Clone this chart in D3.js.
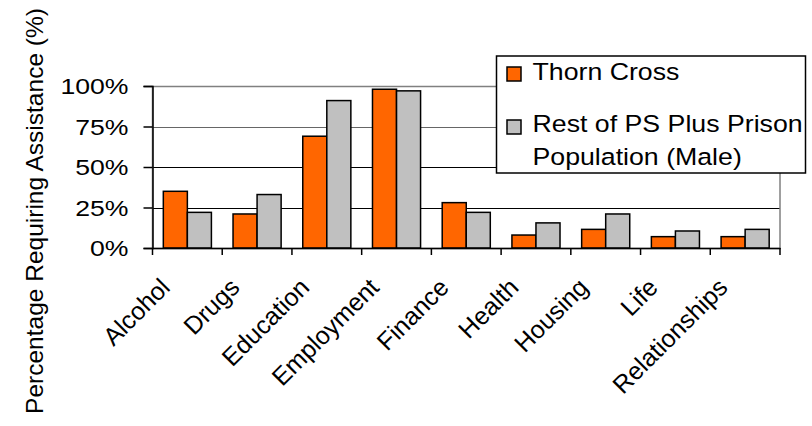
<!DOCTYPE html>
<html><head><meta charset="utf-8">
<script src="https://cdn.jsdelivr.net/npm/d3@7"></script>
<style>
body{margin:0;background:#fff}
text{font-family:"Liberation Sans",Arial,sans-serif;fill:#000}
</style></head><body>
<svg id="c" width="812" height="426"></svg>
<script>
const categories=["Alcohol","Drugs","Education","Employment","Finance","Health","Housing","Life","Relationships"];
const seriesNames=["Thorn Cross","Rest of PS Plus Prison Population (Male)"];
const thornCross=[35,21,69,98,28,8,11.5,7,7];
const restOfPS=[22,33,91,97,22,15.5,21,10.5,11.5];
const yTicks=[0,25,50,75,100];
const legendLines=[["Thorn Cross"],["Rest of PS Plus Prison","Population (Male)"]];
const yTitle="Percentage Requiring Assistance (%)";
const colors=["#FF6600","#C0C0C0"];

const series=[thornCross,restOfPS];
const svg=d3.select("#c");
const L=152.5,R=780,T=86,B=248;

function stretch(sel,f){
  sel.each(function(){
    const w=this.getComputedTextLength();
    d3.select(this).attr("textLength",w*f).attr("lengthAdjust","spacingAndGlyphs");
  });
}

const x0=d3.scaleBand().domain(categories).range([L,R]);
const x1=d3.scaleBand().domain(d3.range(series.length)).range([0,x0.bandwidth()]).paddingOuter(0.45);
const y=d3.scaleLinear().domain([0,100]).range([B,T]);

// gridlines
svg.append("g").selectAll("line").data(yTicks.filter(d=>d>0&&d<100)).join("line")
  .attr("x1",L).attr("x2",R).attr("y1",d=>Math.round(y(d))+0.5).attr("y2",d=>Math.round(y(d))+0.5)
  .attr("stroke",d=>d===75?"#666":"#000").attr("stroke-width",1);

// plot border
svg.append("rect").attr("x",L).attr("y",T+0.5).attr("width",R-L).attr("height",B-T)
  .attr("fill","none").attr("stroke","#808080").attr("stroke-width",1.5);

// bars
const groups=svg.append("g").selectAll("g").data(categories).join("g")
  .attr("transform",d=>`translate(${x0(d)},0)`);
groups.selectAll("rect").data((c,i)=>series.map((s,k)=>({k,v:s[i]}))).join("rect")
  .attr("x",d=>x1(d.k)).attr("width",x1.bandwidth())
  .attr("y",d=>y(d.v)).attr("height",d=>B-y(d.v))
  .attr("fill",d=>colors[d.k]).attr("stroke","#000").attr("stroke-width",1.5);

// y axis
const yAxis=svg.append("g").attr("transform",`translate(${L},0)`)
  .call(d3.axisLeft(y).tickValues(yTicks).tickSize(9).tickPadding(15).tickFormat(d=>d+"%"));
yAxis.select(".domain").attr("stroke","#000").attr("stroke-width",1.5);
yAxis.selectAll(".tick line").attr("stroke","#000").attr("stroke-width",1.5);
yAxis.selectAll(".tick text").attr("font-size",22).attr("font-family","Liberation Sans, Arial, sans-serif").attr("dy","0.36em").call(stretch,1.21);

// x axis
const xAxis=svg.append("g").attr("transform",`translate(0,${B})`)
  .call(d3.axisBottom(x0).tickSize(0).tickSizeOuter(0).tickFormat(""));
xAxis.select(".domain").attr("stroke","#000").attr("stroke-width",1.5);
const bounds=categories.map(c=>x0(c)).concat([x0.range()[1]]);
svg.append("g").selectAll("line").data(bounds).join("line")
  .attr("x1",d=>d).attr("x2",d=>d).attr("y1",B).attr("y2",B+7)
  .attr("stroke","#000").attr("stroke-width",1.5);

svg.append("g").selectAll("text").data(categories).join("text")
  .attr("transform",d=>`translate(${x0(d)+x0.bandwidth()/2-16},${B+41}) rotate(-45)`)
  .attr("text-anchor","end").attr("font-size",25).text(d=>d);

// y title
svg.append("text").attr("transform",`translate(42.5,211) rotate(-90)`)
  .attr("text-anchor","middle").attr("font-size",24.5).text(yTitle);

// legend
const lg=svg.append("g");
lg.append("rect").attr("x",496.5).attr("y",56).attr("width",309).attr("height",117)
  .attr("fill","#fff").attr("stroke","#000").attr("stroke-width",1.5);
const swY=[67,120];
const lineY=[[80],[132,165]];
legendLines.forEach((lines,k)=>{
  lg.append("rect").attr("x",507).attr("y",swY[k]).attr("width",14).attr("height",14)
    .attr("fill",colors[k]).attr("stroke","#000").attr("stroke-width",1.5);
  lines.forEach((t,j)=>{
    lg.append("text").attr("x",532.5).attr("y",lineY[k][j]).attr("font-size",24.5).text(t).call(stretch,1.09);
  });
});
</script>
</body></html>
